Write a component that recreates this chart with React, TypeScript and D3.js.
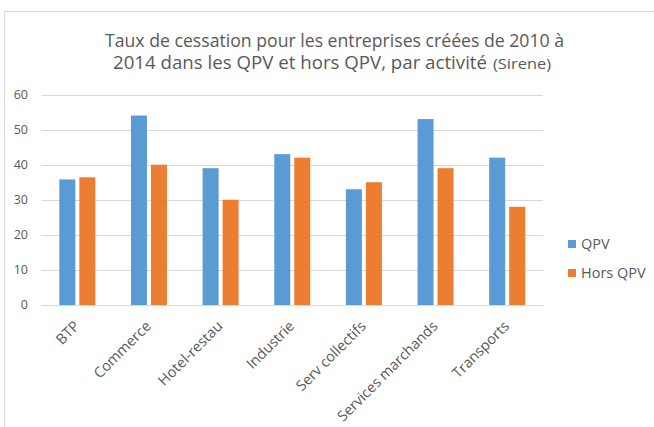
import React from "react";
import * as d3 from "d3";

const categories = ["BTP", "Commerce", "Hotel-restau", "Industrie", "Serv collectifs", "Services marchands", "Transports"];
const qpv = [35.8, 54, 39, 43, 33, 53, 42];
const horsQpv = [36.4, 40, 30, 42, 35, 39, 28];
const seriesNames = ["QPV", "Hors QPV"];
const seriesColors = ["#5B9BD5", "#ED7D31"];
const yTicks = [0, 10, 20, 30, 40, 50, 60];

export default function App() {
  const W = 654, H = 427;
  const left = 41.5, right = 543, top = 94.5, bottom = 305;
  const x = d3.scaleBand<string>().domain(categories).range([left, right]).paddingInner(0).paddingOuter(0);
  const y = d3.scaleLinear().domain([0, 60]).range([bottom, top]);
  const barW = 16, gap = 4;
  const font = "'Open Sans', 'Segoe UI', sans-serif";
  const series = [qpv, horsQpv];
  return (
    <svg width={W} height={H} style={{ position: "absolute", left: 0, top: 0, background: "#fff" }} fontFamily={font}>
      <rect x={4.5} y={11.5} width={W + 10} height={H + 10} fill="#fff" stroke="#D9D9D9" strokeWidth={1} />
      <text x={105} y={47} textLength={459} lengthAdjust="spacingAndGlyphs" fontSize={17.6} fill="#595959">
        Taux de cessation pour les entreprises créées de 2010 à
      </text>
      <text x={113} y={69} textLength={374} lengthAdjust="spacingAndGlyphs" fontSize={17.8} fill="#595959">
        2014 dans les QPV et hors QPV, par activité
      </text>
      <text x={493} y={69} textLength={58} lengthAdjust="spacingAndGlyphs" fontSize={14} fill="#595959">
        (Sirene)
      </text>
      {yTicks.map((t) => (
        <g key={t}>
          <line x1={left} x2={right} y1={Math.round(y(t)) + 0.5} y2={Math.round(y(t)) + 0.5} stroke="#D9D9D9" strokeWidth={1} />
          <text x={28} y={y(t)} dy="0.35em" textAnchor="end" fontSize={12.5} fill="#595959">{t}</text>
        </g>
      ))}
      {categories.map((c, i) => {
        const cx = (x(c) as number) + x.bandwidth() / 2;
        return (
          <g key={c}>
            {series.map((s, j) => {
              const bx = j === 0 ? cx - gap / 2 - barW : cx + gap / 2;
              return (
                <rect key={j} x={bx} y={y(s[i])} width={barW} height={y(0) - y(s[i])} fill={seriesColors[j]} />
              );
            })}
            <text transform={`translate(${cx + 3},${327}) rotate(-45)`} textAnchor="end" fontSize={14.5} fill="#595959">{c}</text>
          </g>
        );
      })}
      {seriesNames.map((n, j) => (
        <g key={n}>
          <rect x={568} y={240 + j * 29} width={8} height={8} fill={seriesColors[j]} />
          <text x={581} y={244 + j * 29} dy="0.35em" fontSize={14.5} fill="#595959">{n}</text>
        </g>
      ))}
    </svg>
  );
}
